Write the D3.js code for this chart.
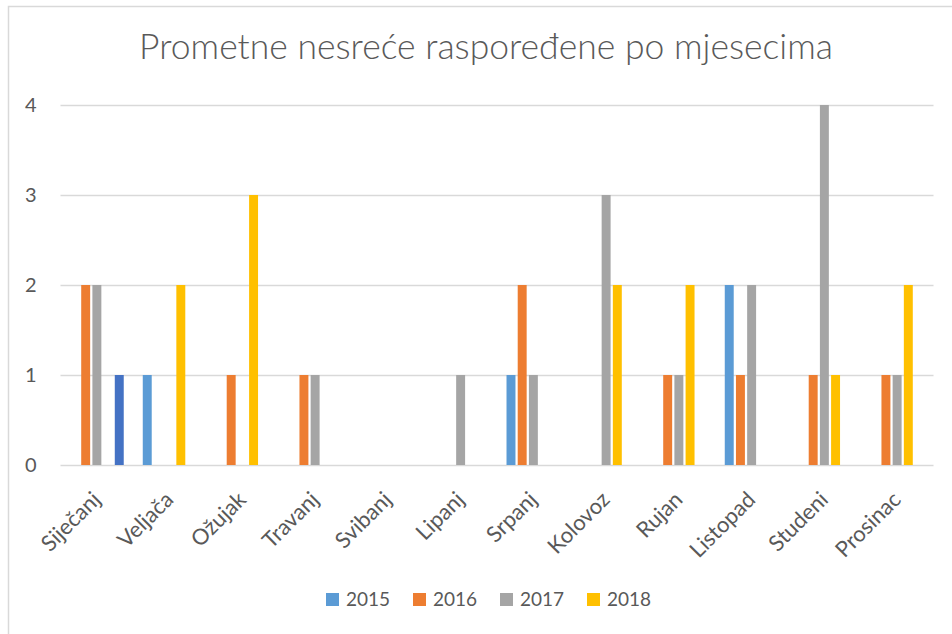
<!DOCTYPE html>
<html>
<head>
<meta charset="utf-8">
<script src="https://cdn.jsdelivr.net/npm/d3@7"></script>
<style>
  body { margin: 0; background: #fff; }
  svg { display: block; font-family: Lato, "Open Sans", sans-serif; }
</style>
</head>
<body>
<div id="chart"></div>
<script>
// Months (categories)
months = ["Siječanj", "Veljača", "Ožujak", "Travanj", "Svibanj", "Lipanj",
          "Srpanj", "Kolovoz", "Rujan", "Listopad", "Studeni", "Prosinac"]

// Series values
years = ["2015", "2016", "2017", "2018"]
v2015 = [0, 1, 0, 0, 0, 0, 1, 0, 0, 2, 0, 0]
v2016 = [2, 0, 1, 1, 0, 0, 2, 0, 1, 1, 1, 1]
v2017 = [2, 0, 0, 1, 0, 1, 1, 3, 1, 2, 4, 1]
v2018 = [0, 2, 3, 0, 0, 0, 0, 2, 2, 0, 1, 2]
// fifth series that has no legend entry (dark blue bar in January)
vExtra = [1, 0, 0, 0, 0, 0, 0, 0, 0, 0, 0, 0]

yTicks = [0, 1, 2, 3, 4]

colors = ["#5B9BD5", "#ED7D31", "#A5A5A5", "#FFC000", "#4472C4"]

width = 952
height = 634
margin = {left: 60.5, right: 18.5, top: 105, bottom: 169}

keys = years.concat(["extra"])
allValues = [v2015, v2016, v2017, v2018, vExtra]

svg = d3.select("#chart")
        .append("svg")
        .attr("width", width)
        .attr("height", height)

// chart frame (cropped at right and bottom)
svg.append("rect")
    .attr("x", 8.5).attr("y", 6.5)
    .attr("width", 980).attr("height", 660)
    .attr("fill", "none")
    .attr("stroke", "#d9d9d9")
    .attr("stroke-width", 1.5)

x0 = d3.scaleBand()
    .domain(months)
    .range([margin.left, width - margin.right])

x1 = d3.scaleBand()
    .domain(keys)
    .range([0, x0.bandwidth()])
    .paddingInner(0.2)
    .paddingOuter(0.85)

y = d3.scaleLinear()
    .domain([0, 4])
    .range([height - margin.bottom, margin.top])

// title
svg.append("text")
    .attr("x", 486)
    .attr("y", 59)
    .attr("text-anchor", "middle")
    .attr("fill", "#595959")
    .style("font-size", "35.5px")
    .style("font-weight", 300)
    .text("Prometne nesreće raspoređene po mjesecima")

// gridlines + y labels
yAxis = d3.axisLeft(y)
    .tickValues(yTicks)
    .tickSize(-(width - margin.right - margin.left))
    .tickFormat(d3.format("d"))

gy = svg.append("g")
    .attr("transform", `translate(${margin.left},0)`)
    .call(yAxis)
gy.select(".domain").remove()
gy.selectAll(".tick line")
    .attr("stroke", "#d9d9d9")
    .attr("stroke-width", 1.3)
gy.selectAll(".tick text")
    .attr("x", -24)
    .attr("fill", "#595959")
    .style("font-size", "20px")
    .style("font-family", "Lato, sans-serif")

// bars
rows = months.map((m, i) => ({month: m, vals: keys.map((k, j) => ({key: k, value: allValues[j][i], color: colors[j]}))}))

svg.append("g")
    .selectAll("g")
    .data(rows)
    .join("g")
        .attr("transform", d => `translate(${x0(d.month)},0)`)
    .selectAll("rect")
    .data(d => d.vals.filter(v => v.value > 0))
    .join("rect")
        .attr("x", d => x1(d.key))
        .attr("width", x1.bandwidth())
        .attr("y", d => y(d.value))
        .attr("height", d => y(0) - y(d.value))
        .attr("fill", d => d.color)

// x labels, rotated
xAxis = d3.axisBottom(x0).tickSize(0)
gx = svg.append("g")
    .attr("transform", `translate(0,${y(0)})`)
    .call(xAxis)
gx.select(".domain").remove()
gx.selectAll(".tick text")
    .attr("fill", "#595959")
    .style("font-size", "22px")
    .style("font-family", "Lato, sans-serif")
    .attr("text-anchor", "end")
    .attr("dy", null)
    .attr("y", 0)
    .attr("transform", "translate(5,36) rotate(-45)")

// legend
legend = svg.append("g")
    .selectAll("g")
    .data(years)
    .join("g")
        .attr("transform", (d, i) => `translate(${326 + i * 87},593)`)
legend.append("rect")
    .attr("width", 13).attr("height", 13)
    .attr("fill", (d, i) => colors[i])
legend.append("text")
    .attr("x", 20)
    .attr("y", 13)
    .attr("fill", "#595959")
    .style("font-size", "19px")
    .text(d => d)
</script>
</body>
</html>
